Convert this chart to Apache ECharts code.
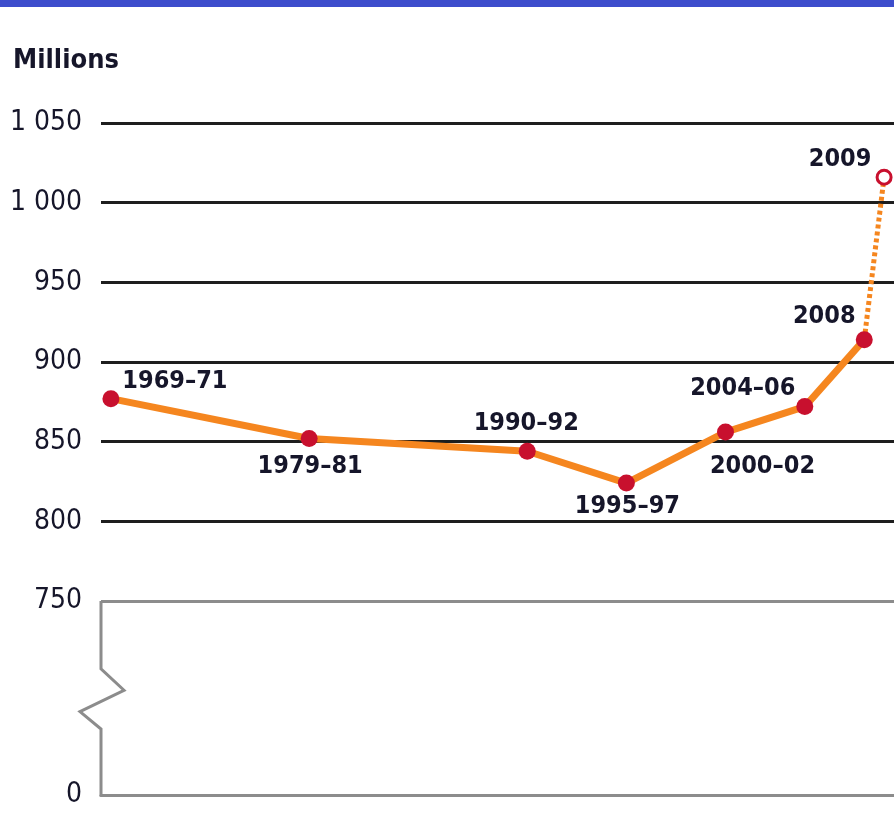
<!DOCTYPE html>
<html>
<head>
<meta charset="utf-8">
<script src="https://cdn.jsdelivr.net/npm/echarts@6/dist/echarts.min.js"></script>
<style>
html,body{margin:0;padding:0;background:#fff;}
#chart{width:894px;height:815px;}
</style>
</head>
<body>
<div id="chart"></div>
<script>
// ---- data ----
const periods = ['1969–71','1979–81','1990–92','1995–97','2000–02','2004–06','2008','2009'];
const midYears = [1970, 1980, 1991, 1996, 2001, 2005, 2008, 2009];
const undernourished = [877, 852, 844, 824, 856, 872, 914, 1016];
const yTicksUpper = [750, 800, 850, 900, 950, 1000, 1050];
const yTicksLower = [0];

// label offsets (presentation only)
const labelOffsets = [[64,-17],[1,28],[-1,-28],[1,23],[37,34],[-62,-18],[-40,-23],[-44,-18]];

const FONT = "'DejaVu Sans Condensed','Liberation Sans Narrow',sans-serif";
const ORANGE = '#f5861f';
const CRIMSON = '#c8102e';
const TEXT = '#16162a';
const xMin = 1969.5, xMax = 2009.5;

const solidData = [];
for (let i = 0; i < midYears.length - 1; i++) {
  solidData.push({
    value: [midYears[i], undernourished[i]],
    label: { show: true, formatter: periods[i], position: 'inside', offset: labelOffsets[i] }
  });
}
const n = midYears.length - 1;
const dottedData = [
  { value: [midYears[n-1], undernourished[n-1]], symbol: 'none' },
  { value: [midYears[n], undernourished[n]], symbol: 'circle', symbolSize: 14,
    itemStyle: { color: '#fff', borderColor: CRIMSON, borderWidth: 3 },
    label: { show: true, formatter: periods[n], position: 'inside', offset: labelOffsets[n] } }
];

const chart = echarts.init(document.getElementById('chart'), null, { renderer: 'canvas' });

const fmt = v => {
  const s = String(v);
  return s.length > 3 ? s.slice(0, s.length - 3) + ' ' + s.slice(-3) : s;
};

const option = {
  backgroundColor: '#fff',
  animation: false,
  title: {
    text: 'Millions', left: 8, top: 42,
    textStyle: { fontFamily: FONT, fontWeight: 'bold', fontSize: 27, color: TEXT }
  },
  grid: [
    { left: 101, right: 0, top: 123, height: 478 },
    { left: 101, right: 0, top: 601, height: 194 }
  ],
  xAxis: [
    { gridIndex: 0, type: 'value', min: xMin, max: xMax, show: false },
    { gridIndex: 1, type: 'value', min: xMin, max: xMax, position: 'bottom',
      axisLine: { show: true, onZero: false, lineStyle: { color: '#8c8c8c', width: 3 } },
      axisTick: { show: false }, axisLabel: { show: false }, splitLine: { show: false } }
  ],
  yAxis: [
    { gridIndex: 0, type: 'value', min: yTicksUpper[0], max: yTicksUpper[yTicksUpper.length-1], interval: 50,
      axisLine: { show: false }, axisTick: { show: false },
      axisLabel: { margin: 19, fontFamily: FONT, fontSize: 28, color: TEXT, formatter: v => yTicksUpper.includes(v) ? fmt(v) : '' },
      splitLine: { show: true, lineStyle: { width: 3, color: ['#8c8c8c','#1e1e1e','#1e1e1e','#1e1e1e','#1e1e1e','#1e1e1e','#1e1e1e'] } }
    },
    { gridIndex: 1, type: 'value', min: 0, max: 750, interval: 750,
      axisLine: { show: false }, axisTick: { show: false },
      axisLabel: { margin: 19, fontFamily: FONT, fontSize: 28, color: TEXT, formatter: v => yTicksLower.includes(v) ? fmt(v) : '' },
      splitLine: { show: false }
    }
  ],
  series: [
    {
      type: 'line', xAxisIndex: 0, yAxisIndex: 0, data: solidData,
      symbol: 'circle', symbolSize: 17, z: 5,
      lineStyle: { color: ORANGE, width: 7 },
      itemStyle: { color: CRIMSON },
      label: { fontFamily: FONT, fontWeight: 'bold', fontSize: 25, color: TEXT },
      clip: false
    },
    {
      type: 'line', xAxisIndex: 0, yAxisIndex: 0, data: dottedData, z: 4,
      lineStyle: { color: ORANGE, width: 5, type: [4, 3] },
      label: { fontFamily: FONT, fontWeight: 'bold', fontSize: 25, color: TEXT },
      clip: false
    }
  ]
};
chart.setOption(option);

// top banner + broken-axis zigzag (decoration)
const toPx = (x, y) => chart.convertToPixel({ xAxisIndex: 1, yAxisIndex: 1 }, [x, y]);
const boxTop = toPx(xMin, 750), boxBot = toPx(xMin, 0);
const x0 = boxTop[0], h = boxBot[1] - boxTop[1];
chart.setOption({
  graphic: [
    { type: 'rect', shape: { x: 0, y: 0, width: 894, height: 7 }, style: { fill: '#3d4dcc' }, z: 10 },
    { type: 'polyline', z: 10,
      shape: { points: [
        [x0, boxTop[1]], [x0, boxTop[1] + h*0.35], [x0 + 23, boxTop[1] + h*0.46],
        [x0 - 21, boxTop[1] + h*0.57], [x0, boxTop[1] + h*0.66], [x0, boxBot[1] + 1.5]
      ] },
      style: { stroke: '#8c8c8c', lineWidth: 3, fill: null } }
  ]
});
</script>
</body>
</html>
